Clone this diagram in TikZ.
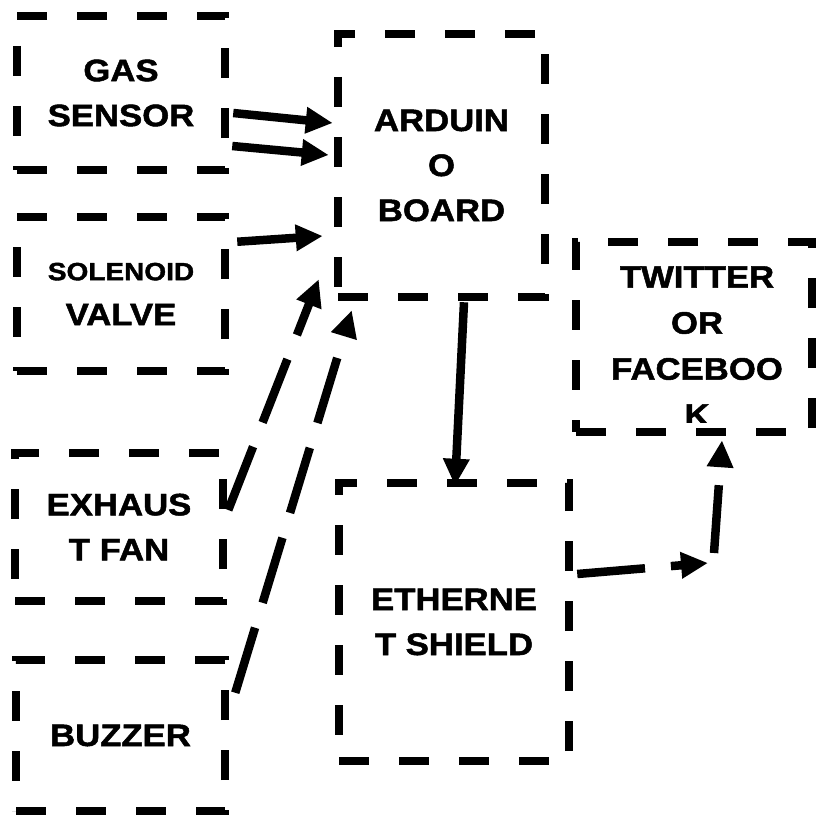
\documentclass[tikz,border=0pt]{standalone}
\usepackage{fontspec}
\newfontfamily\boxfont[FakeStretch=1.12,FakeBold=1.6]{Liberation Sans}
\usetikzlibrary{arrows.meta,calc}
\begin{document}
\begin{tikzpicture}[x=1pt,y=-1pt,
  box/.style={draw, line width=8.5pt, dash pattern=on 30pt off 30pt,
    inner sep=0pt, align=center,
    font=\boxfont\bfseries\fontsize{31}{45}\selectfont},
  conn/.style={line width=8.5pt, -{Triangle[length=27pt,width=25pt]}},
  dconn/.style={conn, dash pattern=on 68pt off 26pt}]
\useasboundingbox (0,0) rectangle (817,816);

\node[box, minimum width=208pt, minimum height=154pt] (gas) at (121,93) {GAS\\SENSOR};
\node[box, minimum width=208pt, minimum height=154pt] (sol) at (121,294)
  {{\fontsize{25}{45}\selectfont SOLENOID}\\VALVE};
\node[box, minimum width=207pt, minimum height=263pt] (ard) at (441.5,165.5) {ARDUIN\\O\\BOARD};
\node[box, minimum width=236pt, minimum height=190pt] (tw) at (694,337) {};
\begin{scope}
  \clip (560,230) rectangle (817,422);
  \node[align=center, inner sep=0pt, font=\boxfont\bfseries\fontsize{31}{46}\selectfont]
    (twtext) at (697,346) {TWITTER\\OR\\FACEBOO\\K};
\end{scope}
\node[box, minimum width=208pt, minimum height=148pt] (exh) at (119,527) {EXHAUS\\T FAN};
\node[box, minimum width=209pt, minimum height=151pt] (buz) at (120.5,735.5) {BUZZER};
\node[box, minimum width=230pt, minimum height=278pt] (eth) at (454,622) {ETHERNE\\T SHIELD};

\coordinate (elbow) at (711,560);

\draw[conn] ($(gas.east)+(4,20)$) -- ($(ard.west)+(-1,-42.5)$);
\draw[conn] ($(gas.east)+(3,53)$) -- ($(ard.west)+(-5,-10.5)$);
\draw[conn] ($(sol.north east)+(8,29)$) -- ($(ard.west)+(-11,70.5)$);
\draw[dconn] ($(exh.east)+(1,-17)$) -- ($(ard.south west)+(-15,-22)$);
\draw[dconn] ($(buz.north east)+(6,37)$) -- ($(ard.south west)+(18,9)$);
\draw[conn] ($(ard.south)+(22.5,1)$) -- ($(eth.north)+(1,7)$);
\draw[dconn] ($(eth.east)+(4,-48)$) -- ($(elbow)+(-3,3)$);
\draw[dconn] ($(elbow)+(3,-7)$) -- ($(tw.south)+(28,4)$);
\end{tikzpicture}
\end{document}
